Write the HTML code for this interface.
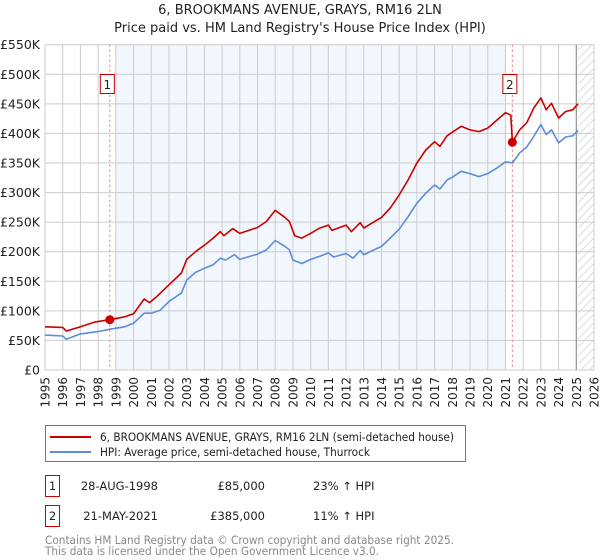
<!DOCTYPE html>
<html><head><meta charset="utf-8"><style>
body{margin:0;background:#fff;}
svg{display:block;font-family:"DejaVu Sans","Liberation Sans",sans-serif;}
</style></head><body>
<svg id="c" width="600" height="560" viewBox="0 0 600 560">
<text x="300" y="14" text-anchor="middle" font-size="13" fill="#222">6, BROOKMANS AVENUE, GRAYS, RM16 2LN</text>
<text x="300" y="32" text-anchor="middle" font-size="13" fill="#222">Price paid vs. HM Land Registry's House Price Index (HPI)</text>
<defs><pattern id="hatch" width="6" height="6" patternUnits="userSpaceOnUse" patternTransform="rotate(45)"><line x1="0" y1="0" x2="0" y2="6" stroke="#bbb" stroke-width="1"/></pattern></defs>
<g id="plot"></g>
<g>
<rect x="45.5" y="425.5" width="420" height="36" fill="#fff" stroke="#777"/>
<line x1="50" y1="437" x2="91" y2="437" stroke="#cc0000" stroke-width="2"/>
<text x="100" y="441" font-size="11.5" fill="#222" textLength="354" lengthAdjust="spacingAndGlyphs">6, BROOKMANS AVENUE, GRAYS, RM16 2LN (semi-detached house)</text>
<line x1="50" y1="452" x2="91" y2="452" stroke="#5b8ed6" stroke-width="2"/>
<text x="100" y="456" font-size="11.5" fill="#222" textLength="270" lengthAdjust="spacingAndGlyphs">HPI: Average price, semi-detached house, Thurrock</text>
</g>
<g font-size="11.5" fill="#222">
<rect x="45.5" y="475.5" width="14" height="21" fill="#fff" stroke="#cc0000"/>
<text x="52.5" y="490" text-anchor="middle">1</text>
<text x="158" y="490" text-anchor="end">28-AUG-1998</text>
<text x="265" y="490" text-anchor="end">£85,000</text>
<text x="313" y="490">23% ↑ HPI</text>
<rect x="45.5" y="505.5" width="14" height="21" fill="#fff" stroke="#cc0000"/>
<text x="52.5" y="520" text-anchor="middle">2</text>
<text x="158" y="520" text-anchor="end">21-MAY-2021</text>
<text x="265" y="520" text-anchor="end">£385,000</text>
<text x="313" y="520">11% ↑ HPI</text>
</g>
<text x="45" y="544" font-size="11.5" fill="#888" textLength="409" lengthAdjust="spacingAndGlyphs">Contains HM Land Registry data © Crown copyright and database right 2025.</text>
<text x="45" y="555" font-size="11.5" fill="#888" textLength="334" lengthAdjust="spacingAndGlyphs">This data is licensed under the Open Government Licence v3.0.</text>
</svg>
<script>
const hpiYears=[1995,1996,1996.2,1997,1998,1998.66,1999.5,2000,2000.6,2001,2001.5,2002,2002.7,2003,2003.5,2004,2004.5,2004.9,2005.2,2005.7,2006,2007,2007.5,2008,2008.5,2008.8,2009,2009.5,2010,2010.5,2011,2011.3,2012,2012.4,2012.8,2013,2013.5,2014,2014.5,2015,2015.5,2016,2016.5,2017,2017.3,2017.7,2018,2018.5,2019,2019.5,2020,2020.5,2021,2021.4,2021.8,2022.2,2022.6,2023,2023.3,2023.6,2024,2024.4,2024.8,2025.1];
const hpiValues=[59,57.5,52,61,65,69,73,79,96,96,101,116,130,152,165,172,178,189,186,195,187,196,203,219,210,203,186,180,187,192,198,191,197,189,202,195,202,209,223,238,259,282,299,313,306,321,326,336,332,327,332,341,352,350,367,377,395,415,398,406,384,394,396,405];
const priceYears=[1995,1996,1996.2,1997,1997.8,1998.66,1999.5,2000,2000.6,2000.9,2001.3,2002,2002.7,2003,2003.5,2004,2004.5,2004.9,2005.1,2005.6,2006,2007,2007.5,2008,2008.5,2008.8,2009.1,2009.5,2010,2010.5,2011,2011.2,2012,2012.3,2012.8,2013,2013.5,2014,2014.5,2015,2015.5,2016,2016.5,2017,2017.3,2017.7,2018,2018.5,2019,2019.5,2020,2020.5,2021,2021.3,2021.39,2021.8,2022.2,2022.6,2023,2023.3,2023.6,2024,2024.4,2024.8,2025.1];
const priceValues=[73,72,66,73,81,85,90,95,120,114,124,144,164,187,200,211,223,234,227,239,231,241,251,270,259,251,227,223,231,240,245,236,245,234,249,240,249,258,274,296,321,350,372,386,378,396,402,412,406,403,409,422,435,431,385,406,418,443,460,440,451,426,437,440,450];
const saleYears=[1998.66,2021.39];
const saleValues=[85,385];
const saleLabels=["1","2"];
const yTicks=[0,50,100,150,200,250,300,350,400,450,500,550];
const yTickLabels=["£0","£50K","£100K","£150K","£200K","£250K","£300K","£350K","£400K","£450K","£500K","£550K"];
const xTicks=[1995,1996,1997,1998,1999,2000,2001,2002,2003,2004,2005,2006,2007,2008,2009,2010,2011,2012,2013,2014,2015,2016,2017,2018,2019,2020,2021,2022,2023,2024,2025,2026];

const X0=45,X1=594,Y0=370,Y1=44.7;
const xs=y=>X0+(y-1995)*(X1-X0)/31;
const ys=v=>Y0-v*(Y0-Y1)/550;
const NS="http://www.w3.org/2000/svg";
const g=document.getElementById('plot');
function mk(t,a){const e=document.createElementNS(NS,t);for(const k in a)e.setAttribute(k,a[k]);g.appendChild(e);return e;}

let e=mk('rect',{x:X0,y:Y1,width:X1-X0,height:Y0-Y1,fill:'#fff'});


e=mk('rect',{x:xs(1999),y:Y1,width:xs(2021)-xs(1999),height:Y0-Y1,fill:'#f2f6fd'});


e=mk('rect',{x:xs(2025.1),y:Y1,width:X1-xs(2025.1),height:Y0-Y1,fill:'url(#hatch)'});



yTicks.forEach((v,i)=>{
  let l=mk('line',{x1:X0,x2:X1,y1:ys(v),y2:ys(v),stroke:'#ccc','stroke-width':1});
  
  
  let t=mk('text',{x:40,y:ys(v)+4.5,'text-anchor':'end','font-size':12.5,fill:'#222'});
  t.textContent=yTickLabels[i];
  
  
});
xTicks.forEach(yr=>{
  let l=mk('line',{x1:xs(yr),x2:xs(yr),y1:Y1,y2:Y0,stroke:'#ccc','stroke-width':1});
  
  
  let t=mk('text',{x:0,y:0,'text-anchor':'end','font-size':12,fill:'#222',transform:`translate(${xs(yr)+4.5},377) rotate(-90)`});
  t.textContent=yr;
  
  
});
e=mk('line',{x1:xs(2025.0),x2:xs(2025.0),y1:Y1,y2:Y0,stroke:'#888','stroke-width':1});



saleYears.forEach((yr,i)=>{
  let l=mk('line',{x1:xs(yr),x2:xs(yr),y1:Y1,y2:Y0,stroke:'#f07070','stroke-width':1,'stroke-dasharray':'2,3'});
  
  
});

function line(xa,va,col,name){
  const d=xa.map((x,i)=>(i?'L':'M')+xs(x).toFixed(1)+','+ys(va[i]).toFixed(1)).join('');
  const p=mk('path',{d:d,fill:'none',stroke:col,'stroke-width':1.6,'stroke-linejoin':'round'});
  
  
}
line(hpiYears,hpiValues,'#5b8ed6','hpi-line');
line(priceYears,priceValues,'#cc0000','price-line');

saleYears.forEach((yr,i)=>{
  let c=mk('circle',{cx:xs(yr),cy:ys(saleValues[i]),r:4.5,fill:'#cc0000'});
  
  
  let bx=xs(yr)-10;
  let r=mk('rect',{x:bx+0.5,y:74.5,width:14,height:19,fill:'#fff',stroke:'#cc0000'});
  
  
  let t=mk('text',{x:bx+7.5,y:89,'text-anchor':'middle','font-size':12,fill:'#222'});
  t.textContent=saleLabels[i];
  
  
});
</script>
</body></html>
